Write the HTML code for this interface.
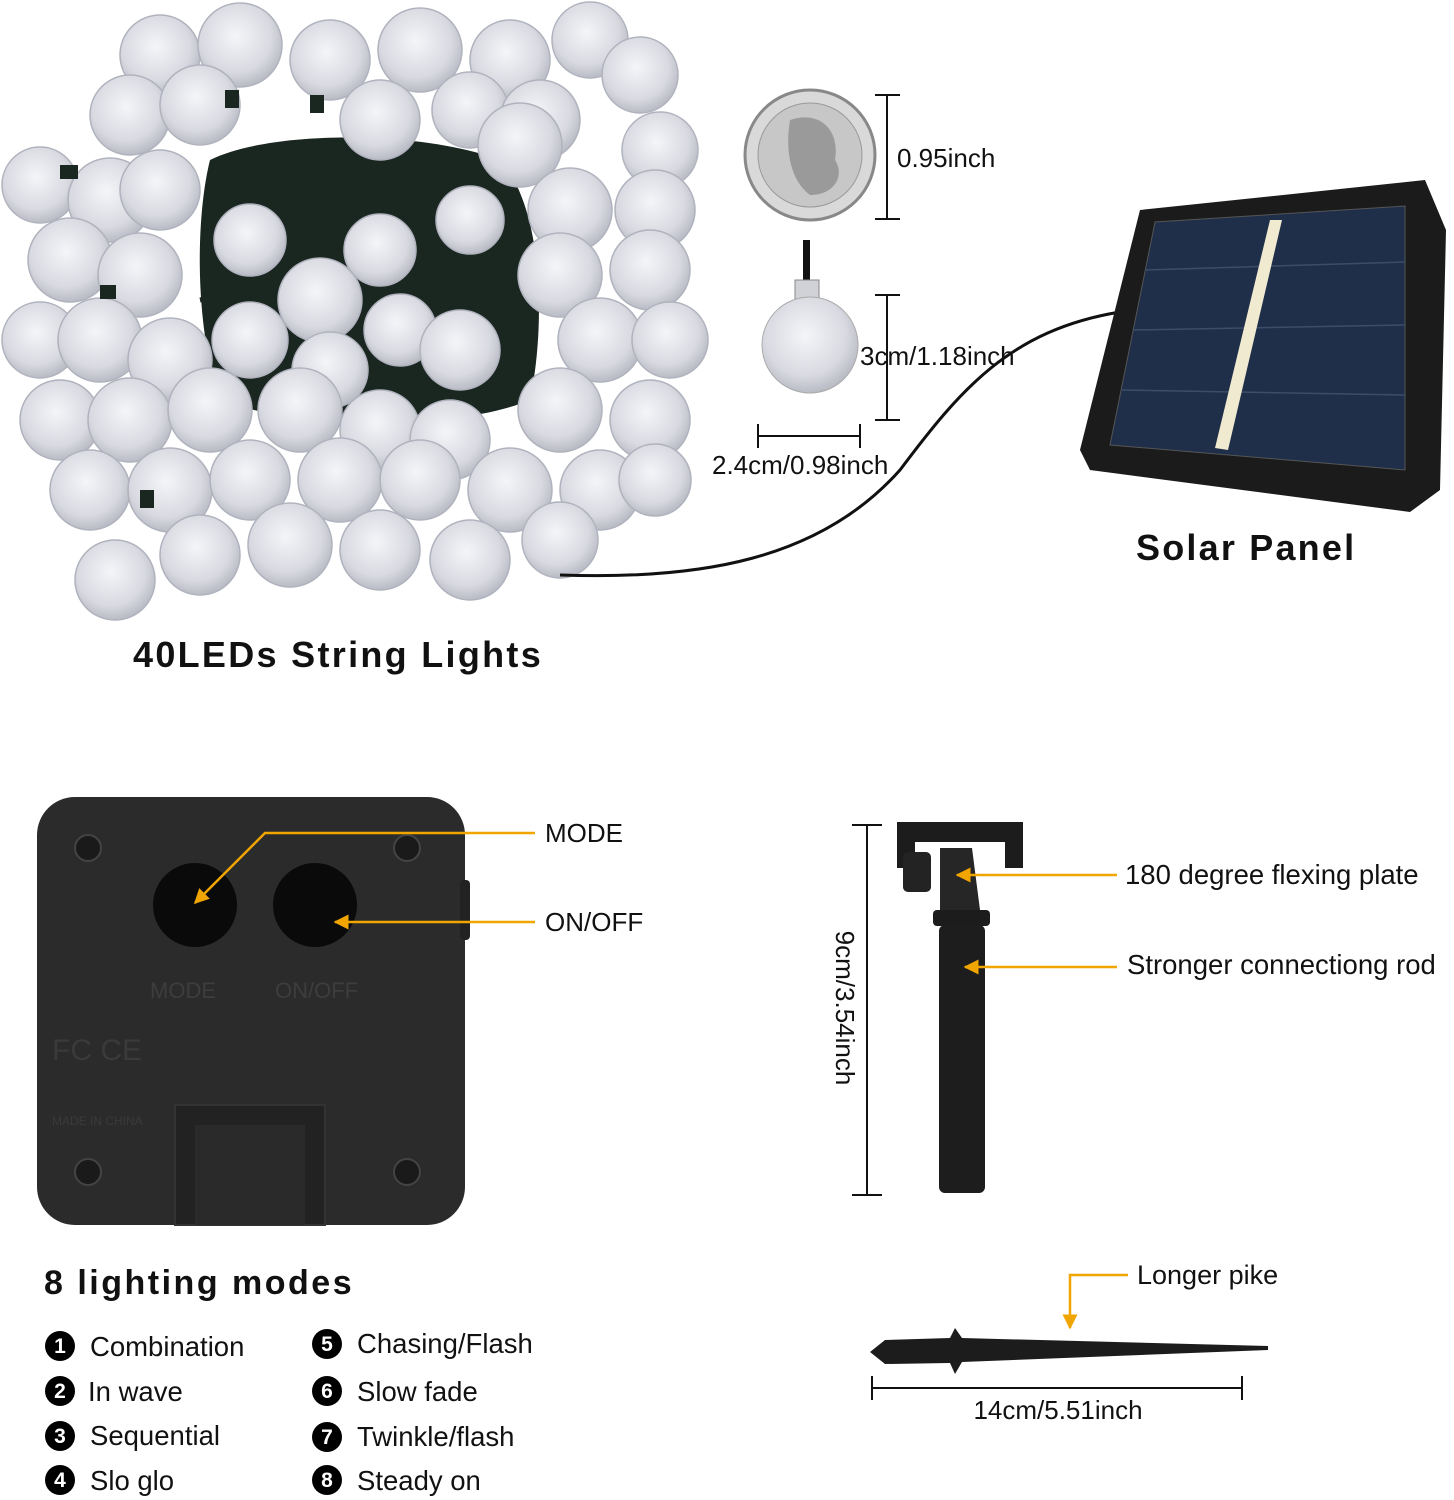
<!DOCTYPE html>
<html><head><meta charset="utf-8"><style>
html,body{margin:0;padding:0;background:#fff;}
svg{display:block;}
text{font-family:"Liberation Sans",sans-serif;fill:#111;}
.b{font-weight:bold;}
</style></head><body>
<svg width="1454" height="1500" viewBox="0 0 1454 1500" xmlns="http://www.w3.org/2000/svg">
<defs>
<radialGradient id="bulb" cx="0.45" cy="0.4" r="0.6">
<stop offset="0" stop-color="#f4f5f8"/><stop offset="0.7" stop-color="#d9dae1"/><stop offset="1" stop-color="#b9bbc5"/>
</radialGradient>
<marker id="ar" viewBox="0 0 10 10" refX="9" refY="5" markerWidth="6" markerHeight="6" orient="auto"><path d="M0,0 L10,5 L0,10 z" fill="#f0a500"/></marker>
</defs>
<!-- string lights -->
<path d="M210,160 C270,130 420,130 500,160 C545,210 545,330 530,400 C460,430 300,430 220,400 C195,330 195,220 210,160z" fill="#1a2620"/>
<g stroke="#1a2620" stroke-width="5" fill="none"><path d="M200,300 C300,280 400,330 520,300"/><path d="M250,170 C300,250 420,200 480,380"/></g>
<g fill="url(#bulb)" stroke="#b0b2bd" stroke-width="1.5">
<circle cx="160" cy="55" r="40"/><circle cx="240" cy="45" r="42"/><circle cx="330" cy="60" r="40"/><circle cx="420" cy="50" r="42"/><circle cx="510" cy="60" r="40"/><circle cx="590" cy="40" r="38"/>
<circle cx="130" cy="115" r="40"/><circle cx="200" cy="105" r="40"/><circle cx="380" cy="120" r="40"/><circle cx="470" cy="110" r="38"/><circle cx="540" cy="120" r="40"/><circle cx="640" cy="75" r="38"/><circle cx="660" cy="150" r="38"/>
<circle cx="40" cy="185" r="38"/><circle cx="110" cy="200" r="42"/><circle cx="160" cy="190" r="40"/><circle cx="520" cy="145" r="42"/><circle cx="570" cy="210" r="42"/><circle cx="655" cy="210" r="40"/>
<circle cx="70" cy="260" r="42"/><circle cx="140" cy="275" r="42"/><circle cx="250" cy="240" r="36"/><circle cx="320" cy="300" r="42"/><circle cx="380" cy="250" r="36"/><circle cx="470" cy="220" r="34"/><circle cx="560" cy="275" r="42"/><circle cx="650" cy="270" r="40"/>
<circle cx="40" cy="340" r="38"/><circle cx="100" cy="340" r="42"/><circle cx="170" cy="360" r="42"/><circle cx="250" cy="340" r="38"/><circle cx="330" cy="370" r="38"/><circle cx="400" cy="330" r="36"/><circle cx="460" cy="350" r="40"/><circle cx="600" cy="340" r="42"/><circle cx="670" cy="340" r="38"/>
<circle cx="60" cy="420" r="40"/><circle cx="130" cy="420" r="42"/><circle cx="210" cy="410" r="42"/><circle cx="300" cy="410" r="42"/><circle cx="380" cy="430" r="40"/><circle cx="450" cy="440" r="40"/><circle cx="560" cy="410" r="42"/><circle cx="650" cy="420" r="40"/>
<circle cx="90" cy="490" r="40"/><circle cx="170" cy="490" r="42"/><circle cx="250" cy="480" r="40"/><circle cx="340" cy="480" r="42"/><circle cx="420" cy="480" r="40"/><circle cx="510" cy="490" r="42"/><circle cx="600" cy="490" r="40"/><circle cx="655" cy="480" r="36"/>
<circle cx="115" cy="580" r="40"/><circle cx="200" cy="555" r="40"/><circle cx="290" cy="545" r="42"/><circle cx="380" cy="550" r="40"/><circle cx="470" cy="560" r="40"/><circle cx="560" cy="540" r="38"/>
</g>
<g fill="#1a2620">
<rect x="225" y="90" width="14" height="18"/><rect x="310" y="95" width="14" height="18"/><rect x="60" y="165" width="18" height="14"/><rect x="140" y="490" width="14" height="18"/><rect x="100" y="285" width="16" height="14"/>
</g>
<text x="133" y="667" class="b" font-size="36" letter-spacing="2.3">40LEDs String Lights</text>
<!-- cable -->
<path d="M560,575 C700,580 820,560 900,470 C960,390 1010,330 1120,312" fill="none" stroke="#111" stroke-width="3"/>
<!-- coin -->
<circle cx="810" cy="155" r="65" fill="#d9d9d9" stroke="#888" stroke-width="3"/>
<circle cx="810" cy="155" r="52" fill="#c7c7c7" stroke="#999" stroke-width="1"/>
<path d="M790,120 C820,110 840,130 835,160 C845,175 835,195 810,195 C790,180 785,150 790,120z" fill="#9a9a9a"/>
<g stroke="#111" stroke-width="2"><line x1="887" y1="95" x2="887" y2="219"/><line x1="875" y1="95" x2="900" y2="95"/><line x1="875" y1="219" x2="900" y2="219"/></g>
<text x="897" y="167" font-size="26">0.95inch</text>
<!-- small bulb -->
<rect x="803" y="240" width="7" height="40" fill="#111"/>
<rect x="795" y="280" width="24" height="30" fill="#d0d2d8" stroke="#888"/>
<circle cx="810" cy="345" r="48" fill="url(#bulb)" stroke="#aaa"/>
<g stroke="#111" stroke-width="2"><line x1="887" y1="295" x2="887" y2="420"/><line x1="875" y1="295" x2="900" y2="295"/><line x1="875" y1="420" x2="900" y2="420"/>
<line x1="758" y1="436" x2="860" y2="436"/><line x1="758" y1="424" x2="758" y2="448"/><line x1="860" y1="424" x2="860" y2="448"/></g>
<text x="860" y="365" font-size="26">3cm/1.18inch</text>
<text x="712" y="474" font-size="26">2.4cm/0.98inch</text>
<!-- solar panel -->
<path d="M1140,210 L1425,180 L1446,230 L1440,490 L1410,512 L1090,470 L1080,450z" fill="#1b1b1b"/>
<path d="M1110,445 L1155,222 L1405,206 L1405,470z" fill="#1f2f4a" stroke="#555" stroke-width="1"/>
<g stroke="#3d4d68" stroke-width="1.5"><line x1="1145" y1="270" x2="1405" y2="262"/><line x1="1133" y1="330" x2="1405" y2="325"/><line x1="1122" y1="390" x2="1405" y2="395"/></g>
<path d="M1270,220 L1282,220 L1228,450 L1215,448z" fill="#f0ead0"/>
<text x="1136" y="560" class="b" font-size="36" letter-spacing="2.2">Solar Panel</text>
<!-- battery box -->
<rect x="37" y="797" width="428" height="428" rx="38" fill="#2b2b2b"/>
<rect x="460" y="880" width="10" height="60" rx="4" fill="#222"/>
<circle cx="195" cy="905" r="42" fill="#0a0a0a"/><circle cx="315" cy="905" r="42" fill="#0a0a0a"/>
<g fill="#1a1a1a" stroke="#444" stroke-width="2"><circle cx="88" cy="848" r="13"/><circle cx="407" cy="848" r="13"/><circle cx="88" cy="1172" r="13"/><circle cx="407" cy="1172" r="13"/></g>
<text x="150" y="998" font-size="22" style="fill:#3d3d3d">MODE</text>
<text x="275" y="998" font-size="22" style="fill:#3d3d3d">ON/OFF</text>
<text x="52" y="1060" font-size="30" style="fill:#3a3a3a">FC CE</text>
<text x="52" y="1125" font-size="12" style="fill:#3a3a3a">MADE IN CHINA</text>
<rect x="175" y="1105" width="150" height="120" fill="#222" stroke="#333" stroke-width="2"/>
<rect x="195" y="1125" width="110" height="100" fill="#2a2a2a"/>
<g stroke="#f0a500" stroke-width="2.5" fill="none">
<polyline points="535,833 265,833 195,903" marker-end="url(#ar)"/>
<line x1="535" y1="922" x2="335" y2="922" marker-end="url(#ar)"/>
</g>
<text x="545" y="842" font-size="26">MODE</text>
<text x="545" y="931" font-size="26">ON/OFF</text>
<!-- modes -->
<text x="44" y="1294" class="b" font-size="34" letter-spacing="2.5">8 lighting modes</text>
<g fill="#000"><circle cx="60" cy="1346" r="15"/><circle cx="60" cy="1391" r="15"/><circle cx="60" cy="1436" r="15"/><circle cx="60" cy="1480" r="15"/>
<circle cx="327" cy="1344" r="15"/><circle cx="327" cy="1391" r="15"/><circle cx="327" cy="1437" r="15"/><circle cx="327" cy="1480" r="15"/></g>
<g font-size="21" font-weight="bold" text-anchor="middle">
<text x="60" y="1353" style="fill:#fff">1</text><text x="60" y="1398" style="fill:#fff">2</text><text x="60" y="1443" style="fill:#fff">3</text><text x="60" y="1487" style="fill:#fff">4</text>
<text x="327" y="1351" style="fill:#fff">5</text><text x="327" y="1398" style="fill:#fff">6</text><text x="327" y="1444" style="fill:#fff">7</text><text x="327" y="1487" style="fill:#fff">8</text></g>
<g font-size="27.5">
<text x="90" y="1356">Combination</text><text x="88" y="1401">In wave</text><text x="90" y="1445">Sequential</text><text x="90" y="1490">Slo glo</text>
<text x="357" y="1353">Chasing/Flash</text><text x="357" y="1401">Slow fade</text><text x="357" y="1446">Twinkle/flash</text><text x="357" y="1490">Steady on</text></g>
<!-- stake -->
<g stroke="#111" stroke-width="2"><line x1="867" y1="825" x2="867" y2="1195"/><line x1="852" y1="825" x2="882" y2="825"/><line x1="852" y1="1195" x2="882" y2="1195"/></g>
<text transform="translate(836,1008) rotate(90)" font-size="26" text-anchor="middle">9cm/3.54inch</text>
<path d="M897,822 L1023,822 L1023,868 L1005,868 L1005,842 L915,842 L915,868 L897,868z" fill="#1c1c1c"/>
<rect x="903" y="852" width="28" height="40" rx="5" fill="#232323"/>
<path d="M940,848 L972,848 L980,910 L940,910z" fill="#262626"/>
<rect x="933" y="910" width="57" height="16" rx="4" fill="#1c1c1c"/>
<rect x="939" y="925" width="46" height="268" rx="6" fill="#1d1d1d"/>
<g stroke="#f0a500" stroke-width="2.5" fill="none">
<line x1="1117" y1="875" x2="957" y2="875" marker-end="url(#ar)"/>
<line x1="1117" y1="967" x2="965" y2="967" marker-end="url(#ar)"/>
<polyline points="1128,1275 1070,1275 1070,1328" marker-end="url(#ar)"/>
</g>
<text x="1125" y="884" font-size="27.5">180 degree flexing plate</text>
<text x="1127" y="974" font-size="27.5">Stronger connectiong rod</text>
<!-- pike -->
<path d="M870,1352 L885,1340 L950,1338 L955,1328 L962,1338 L1268,1346 L1268,1350 L962,1362 L955,1374 L950,1363 L885,1364z" fill="#1c1c1c"/>
<text x="1137" y="1284" font-size="27">Longer pike</text>
<g stroke="#111" stroke-width="2"><line x1="872" y1="1388" x2="1242" y2="1388"/><line x1="872" y1="1376" x2="872" y2="1400"/><line x1="1242" y1="1376" x2="1242" y2="1400"/></g>
<text x="1058" y="1419" font-size="26" text-anchor="middle">14cm/5.51inch</text>
</svg>
</body></html>
